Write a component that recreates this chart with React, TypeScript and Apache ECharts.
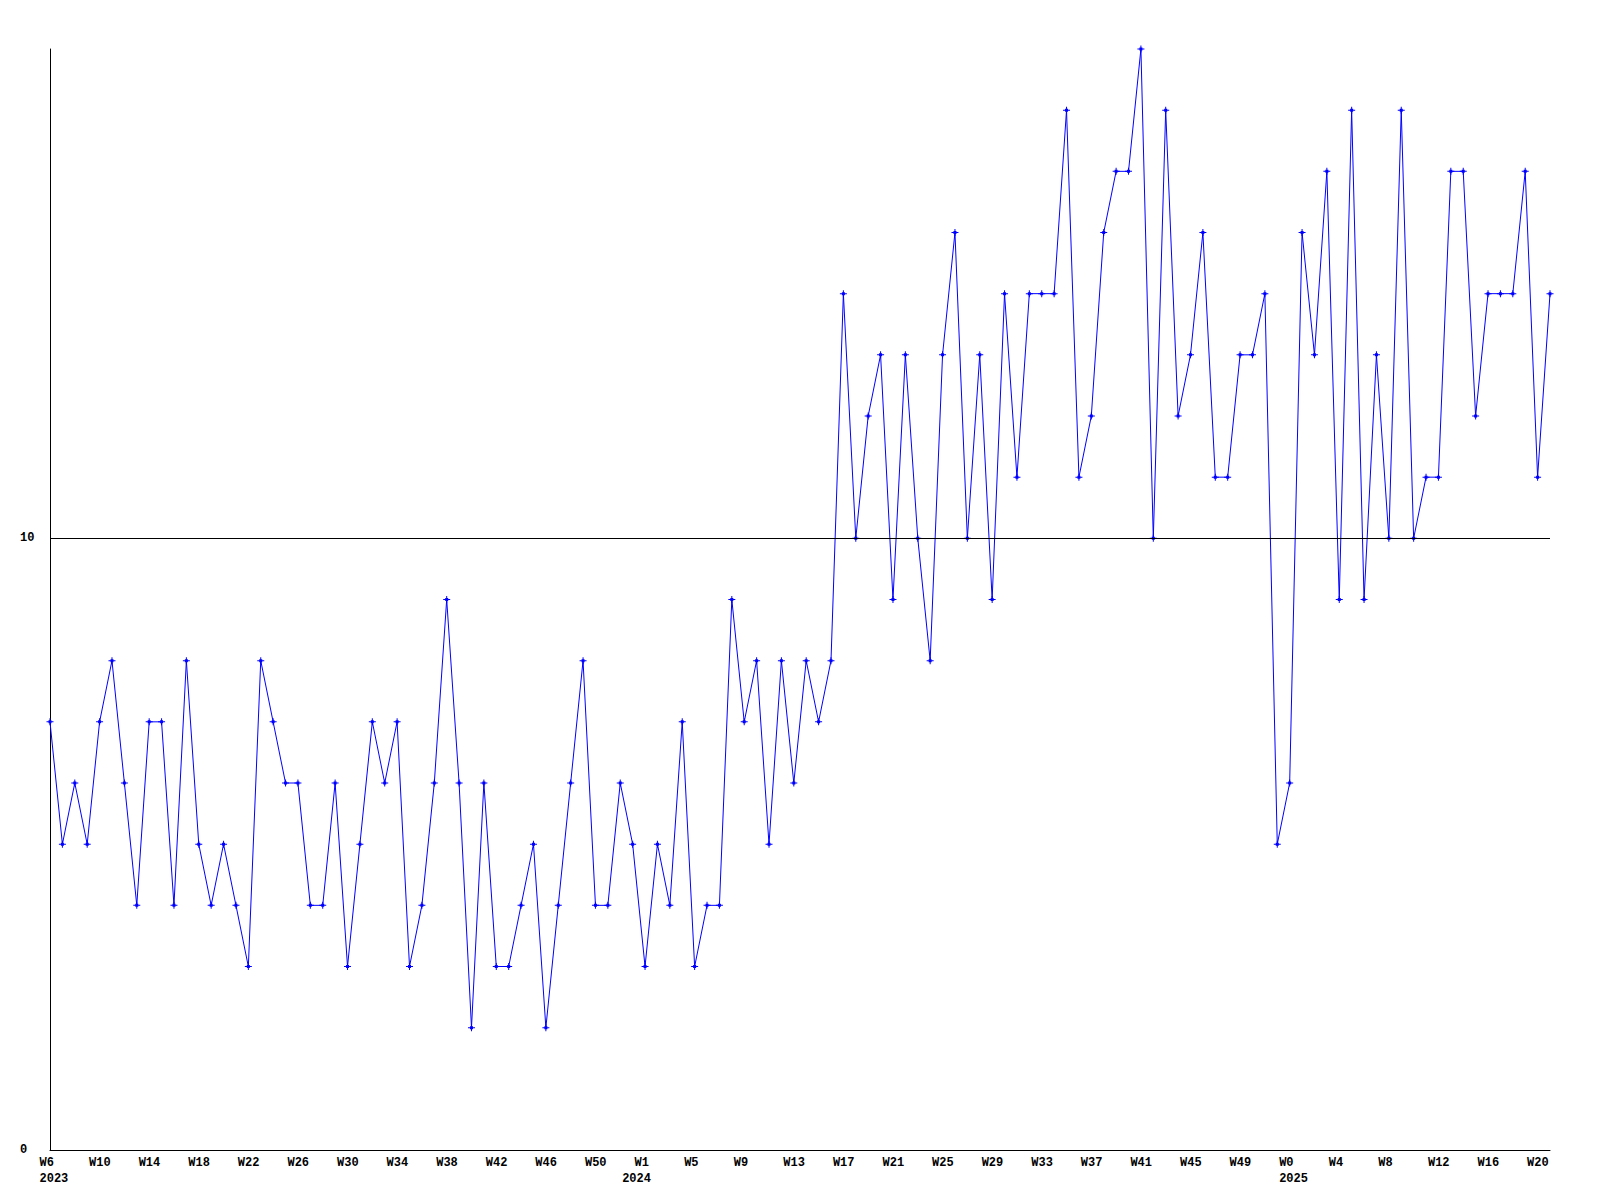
import React, { useEffect, useRef } from 'react';
import * as echarts from 'echarts';

// [year, first week, last week]
const yearSegments: [number, number, number][] = [
  [2023, 6, 52],
  [2024, 0, 52],
  [2025, 0, 21],
];

const values2023 = [7, 5, 6, 5, 7, 8, 6, 4, 7, 7, 4, 8, 5, 4, 5, 4, 3, 8, 7, 6, 6, 4, 4, 6, 3, 5, 7, 6, 7, 3, 4, 6, 9, 6, 2, 6, 3, 3, 4, 5, 2, 4, 6, 8, 4, 4, 6];
const values2024 = [5, 3, 5, 4, 7, 3, 4, 4, 9, 7, 8, 5, 8, 6, 8, 7, 8, 14, 10, 12, 13, 9, 13, 10, 8, 13, 15, 10, 13, 9, 14, 11, 14, 14, 14, 17, 11, 12, 15, 16, 16, 18, 10, 17, 12, 13, 15, 11, 11, 13, 13, 14, 5];
const values2025 = [6, 15, 13, 16, 9, 17, 9, 13, 10, 17, 10, 11, 11, 16, 16, 12, 14, 14, 14, 16, 11, 14];
const yearValues = [values2023, values2024, values2025];

const yTickLabels = [0, 10];
const referenceLine = 10;
const labelEvery = 4;

const App = () => {
  const ref = useRef<HTMLDivElement>(null);
  useEffect(() => {
    const chart = echarts.init(ref.current!, null, { renderer: 'svg' });
    const keys: string[] = [];
    const weeks: string[] = [];
    const years: string[] = [];
    const yearStarts: number[] = [];
    const values: number[] = [];
    yearSegments.forEach(([y, a, b], s) => {
      yearStarts.push(keys.length);
      for (let w = a; w <= b; w++) {
        keys.push(`${y}-W${w}`);
        weeks.push(`W${w}`);
        years.push(String(y));
      }
      values.push(...yearValues[s]);
    });
    const font = {
      fontFamily: 'Liberation Mono',
      fontWeight: 'bold' as const,
      fontSize: 12,
      color: '#000',
    };
    chart.setOption({
      animation: false,
      backgroundColor: '#fff',
      grid: { left: 50, right: 50, top: 49, bottom: 50, containLabel: false },
      xAxis: [
        {
          type: 'category',
          data: keys,
          boundaryGap: false,
          axisLine: { lineStyle: { color: '#000', width: 1 } },
          axisTick: { show: false },
          splitLine: { show: false },
          axisLabel: {
            interval: (i: number) => i % labelEvery === 0,
            margin: 7,
            formatter: (_v: string, i: number) => `{a|${weeks[i]}}`,
            rich: { a: { ...font, width: 21, align: 'left' } },
          },
        },
        {
          type: 'category',
          data: keys,
          boundaryGap: false,
          position: 'bottom',
          offset: 16,
          axisLine: { show: false },
          axisTick: { show: false },
          splitLine: { show: false },
          axisLabel: {
            interval: (i: number) => yearStarts.includes(i),
            margin: 7,
            formatter: (_v: string, i: number) => `{a|${years[i]}}`,
            rich: { a: { ...font, width: 21, align: 'left' } },
          },
        },
      ],
      yAxis: {
        type: 'value',
        min: 0,
        max: 18,
        interval: 10,
        axisLine: { show: true, lineStyle: { color: '#000', width: 1 } },
        axisTick: { show: false },
        splitLine: { show: false },
        axisLabel: {
          ...font,
          align: 'left',
          margin: 30,
          formatter: (v: number) => (yTickLabels.includes(v) ? String(v) : ''),
        },
      },
      series: [
        {
          type: 'line',
          xAxisIndex: 0,
          data: values,
          symbol: 'path://M3,0H4V2H5V3H7V4H5V5H4V7H3V5H2V4H0V3H2V2H3Z',
          symbolSize: 7,
          itemStyle: { color: '#0000ff' },
          lineStyle: { color: '#0000ff', width: 1 },
          emphasis: { disabled: true },
          markLine: {
            silent: true,
            symbol: ['none', 'none'],
            label: { show: false },
            lineStyle: { color: '#000', width: 1, type: 'solid' },
            data: [{ yAxis: referenceLine }],
          },
        },
      ],
    });
    return () => chart.dispose();
  }, []);
  return (
    <div
      ref={ref}
      style={{ position: 'fixed', left: 0, top: 0, width: 1600, height: 1200 }}
    />
  );
};

export default App;
